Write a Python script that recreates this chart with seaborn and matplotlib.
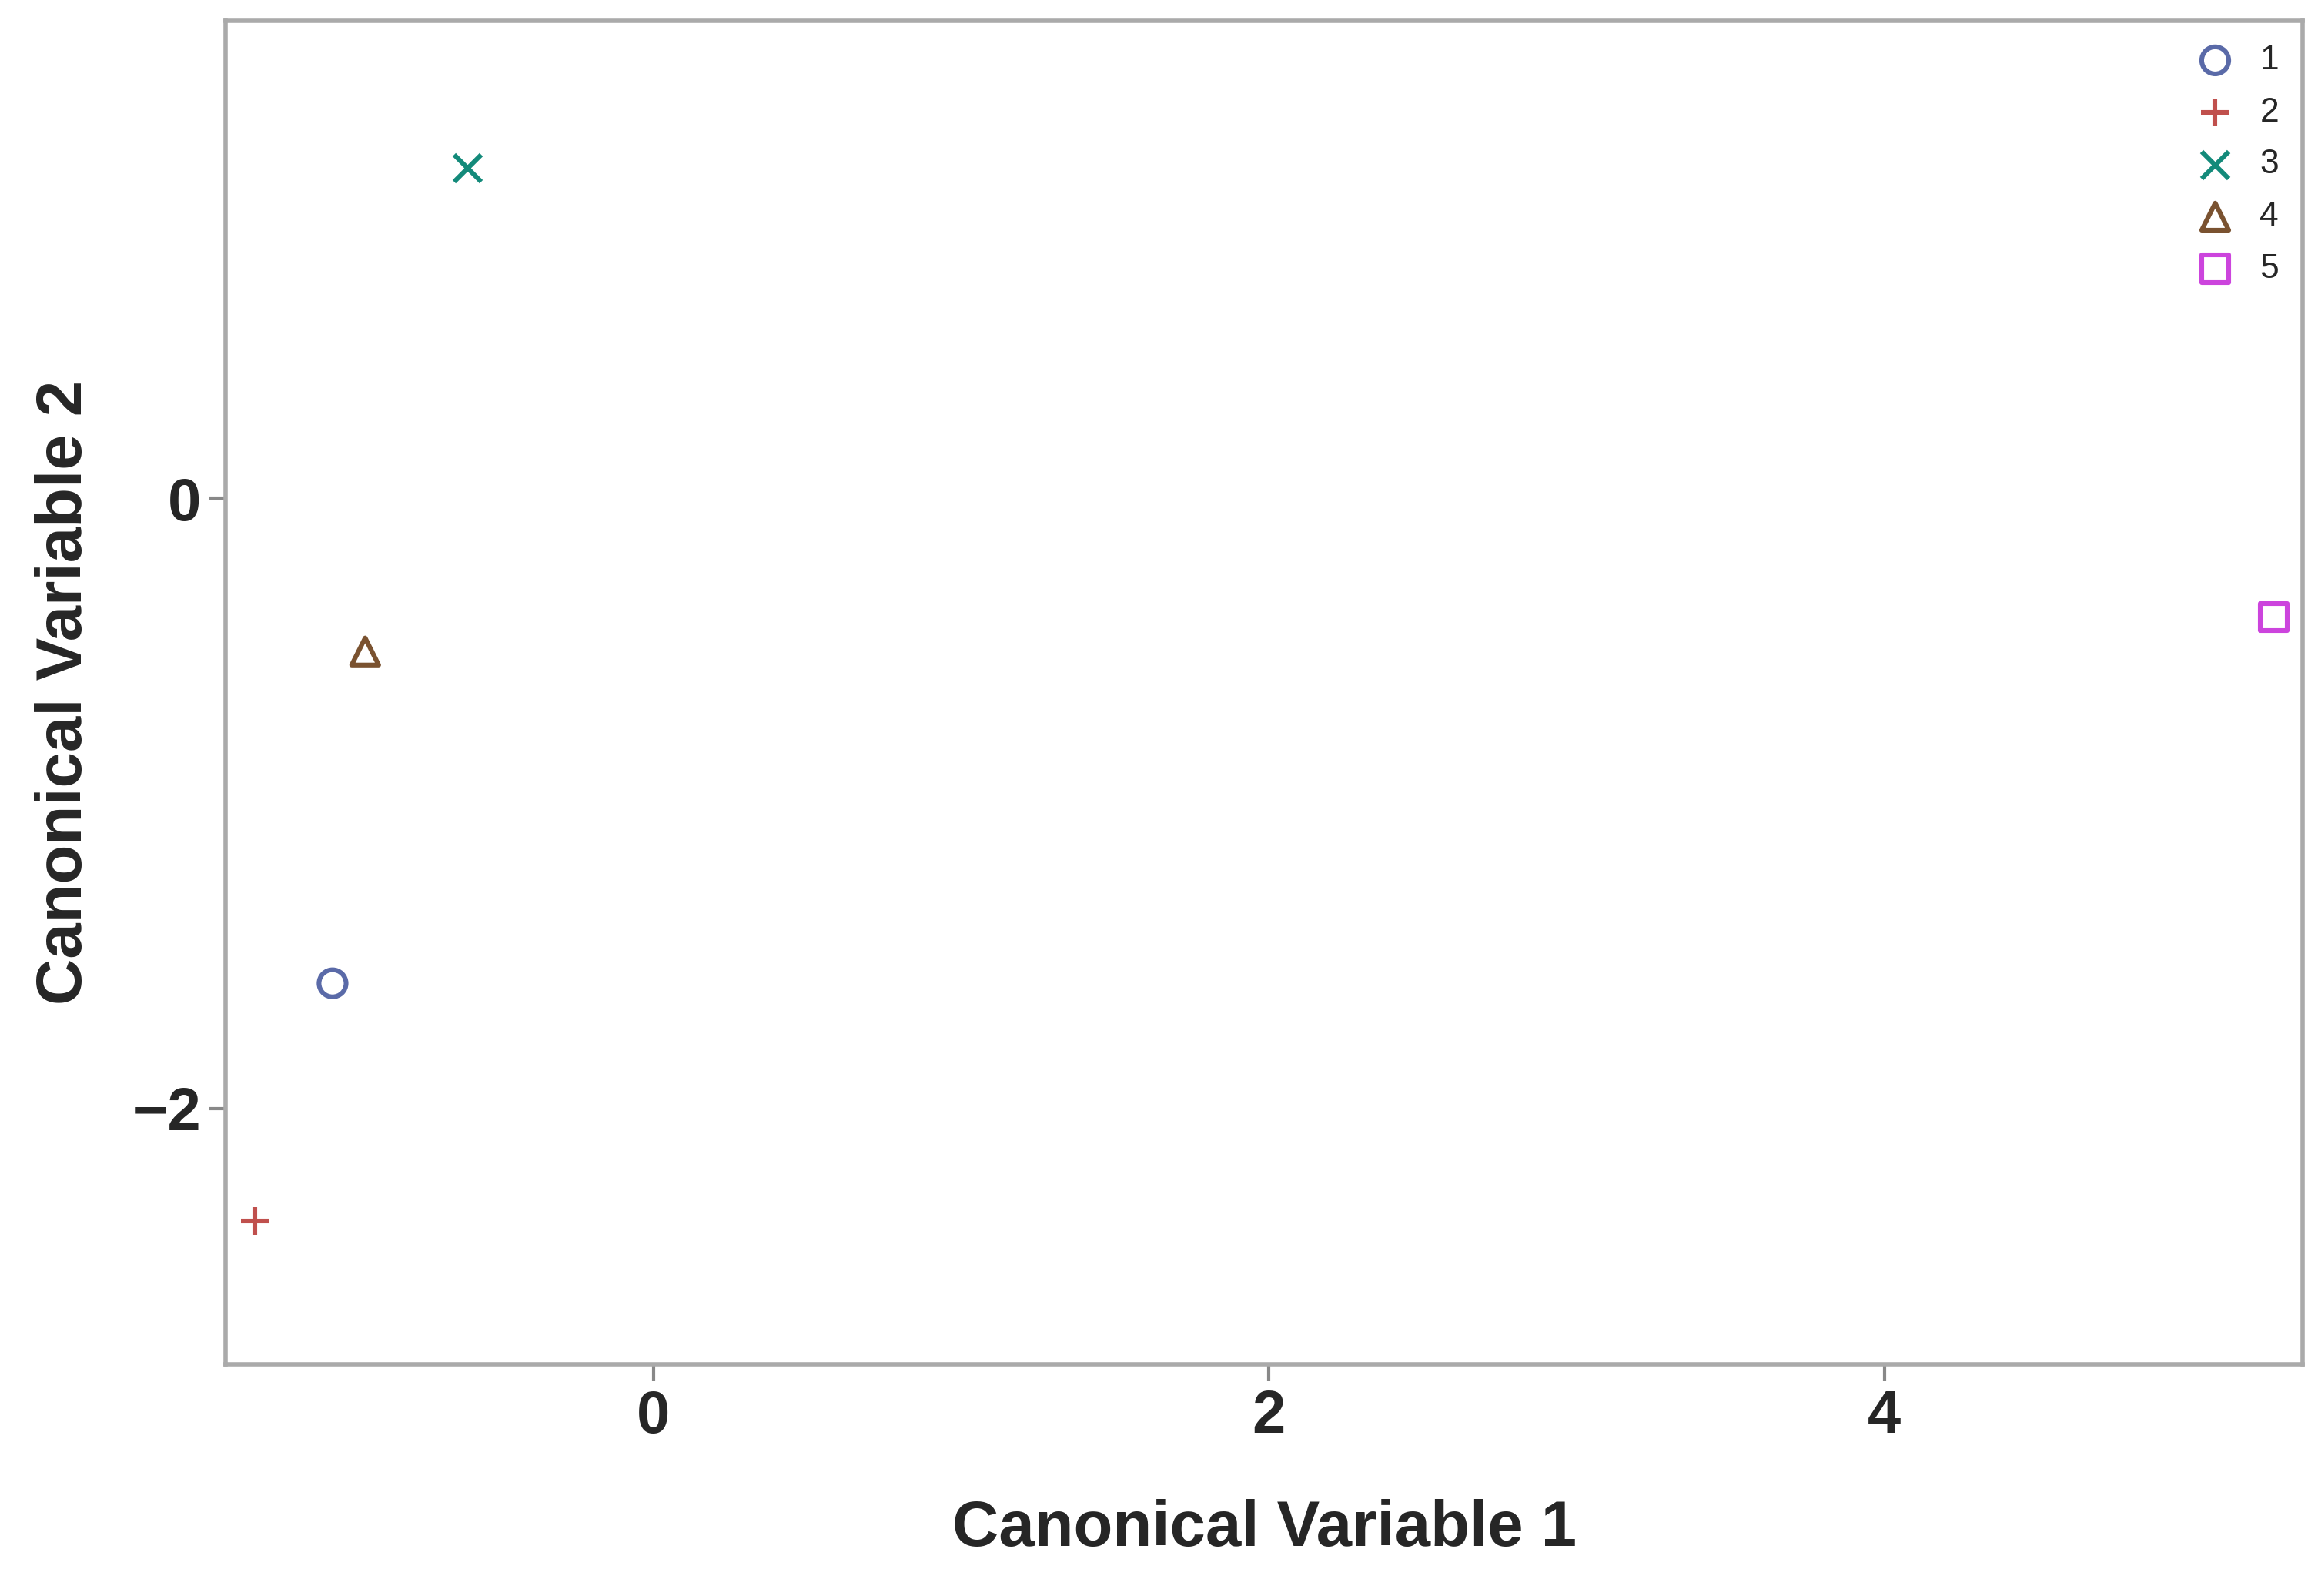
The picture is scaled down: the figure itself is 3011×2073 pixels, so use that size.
import matplotlib
matplotlib.use("Agg")
import matplotlib.pyplot as plt
import seaborn as sns
import pandas as pd

groups = ["1", "2", "3", "4", "5"]
can1 = [-1.043, -1.295, -0.604, -0.937, 5.266]
can2 = [-1.59, -2.37, 1.083, -0.502, -0.39]
colors = ["#5A6AA8", "#C0504D", "#138A7A", "#7A5230", "#CC44DD"]
markers = ["o", "+", "x", "^", "s"]

sns.set_theme(style="white")
plt.rcParams['font.family'] = ['Liberation Sans', 'DejaVu Sans']

df = pd.DataFrame({"Canonical Variable 1": can1, "Canonical Variable 2": can2, "grp": groups})

fig = plt.figure(figsize=(15.055, 10.365), dpi=200)
ax = fig.add_axes([0.0974, 0.145, 0.896, 0.842])
for g, c, m in zip(groups, colors, markers):
    sub = df[df["grp"] == g]
    filled = m in ("o", "^", "s")
    kw = dict(facecolors="none", edgecolors=c) if filled else dict(color=c)
    sns.scatterplot(data=sub, x="Canonical Variable 1", y="Canonical Variable 2",
                    marker=m, s=160, linewidth=2.2, ax=ax, label=g, **kw)

ax.set_xlim(-1.39, 5.36)
ax.set_ylim(-2.84, 1.566)
ax.set_xticks([0, 2, 4])
ax.set_yticks([-2, 0])
ax.tick_params(axis="both", direction="out", length=8, width=1.5, color="#888888",
               labelsize=28, bottom=True, left=True)
for lab in ax.get_xticklabels() + ax.get_yticklabels():
    lab.set_fontweight("bold")
ax.set_xlabel("Canonical Variable 1", fontsize=30, fontweight="bold", labelpad=25)
ax.set_ylabel("Canonical Variable 2", fontsize=30, fontweight="bold", labelpad=18)
for sp in ax.spines.values():
    sp.set_color("#AAAAAA")
    sp.set_linewidth(2)

ax.legend(loc="upper right", frameon=False, fontsize=16,
          handletextpad=0.3, labelspacing=0.6, borderaxespad=0.3)

fig.savefig("out.png", dpi=200)
